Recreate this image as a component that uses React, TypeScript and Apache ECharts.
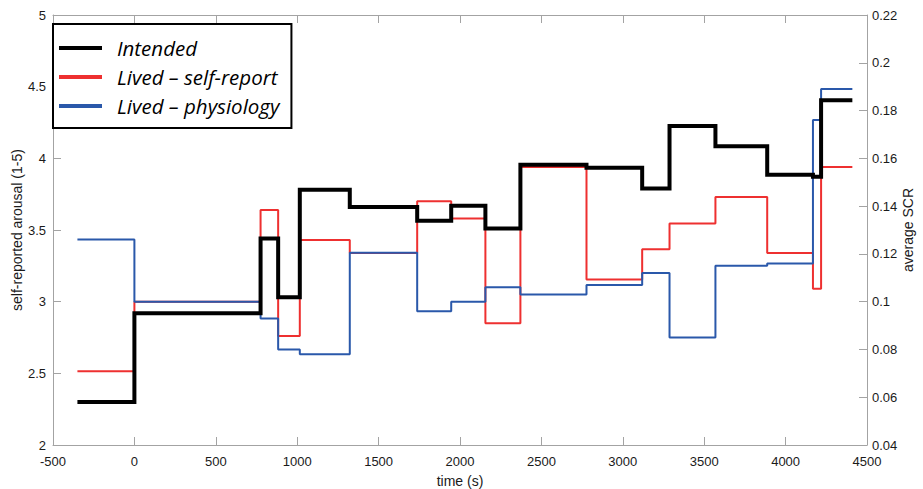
import React, { useEffect, useRef } from "react";
import * as echarts from "echarts";

// segment start times (s); last entry is the end of the final segment
const times = [-350, 0, 775, 883, 1016, 1323, 1737, 1946, 2156, 2371, 2777, 3119, 3287, 3569, 3887, 4168, 4218, 4410];
// Intended arousal (left axis)
const intended = [2.3, 2.92, 3.44, 3.03, 3.78, 3.66, 3.565, 3.67, 3.51, 3.955, 3.935, 3.79, 4.225, 4.085, 3.885, 3.872, 4.405, 4.405];
// Lived - self-report (left axis)
const selfReport = [2.515, 3.0, 3.64, 2.76, 3.43, 3.34, 3.7, 3.58, 2.85, 3.94, 3.155, 3.365, 3.545, 3.73, 3.34, 3.09, 3.94, 3.94];
// Lived - physiology, average SCR (right axis)
const physiology = [0.126, 0.1, 0.093, 0.08, 0.078, 0.1205, 0.096, 0.1, 0.106, 0.103, 0.107, 0.112, 0.085, 0.115, 0.116, 0.176, 0.189, 0.189];

const seriesNames = ["Intended", "Lived \u2013 self-report", "Lived \u2013 physiology"];
const xAxisName = "time (s)";
const leftAxisName = "self-reported arousal (1-5)";
const rightAxisName = "average SCR";

const pair = (vals: number[]) => times.map((t, i) => [t, vals[i]]);

export default function App() {
  const ref = useRef<HTMLDivElement>(null);
  useEffect(() => {
    if (!ref.current) return;
    const chart = echarts.init(ref.current, undefined, { renderer: "svg" });
    const axisLine = { show: true, onZero: false, lineStyle: { color: "#a3a3a3", width: 1 } };
    const tick = { show: true, inside: true, length: 8, lineStyle: { color: "#a3a3a3" } };
    const label = { color: "#1a1a1a", fontSize: 13, fontFamily: "Liberation Sans, Arial, sans-serif" };
    const nameText = { color: "#1a1a1a", fontSize: 14, fontFamily: "Liberation Sans, Arial, sans-serif" };
    chart.setOption({
      animation: false,
      backgroundColor: "#fff",
      grid: { left: 53, right: 56, top: 15, bottom: 44, containLabel: false, outerBoundsMode: "none" },
      legend: {
        data: seriesNames,
        orient: "vertical",
        left: 53,
        top: 24,
        padding: [14, 12, 12, 6],
        itemGap: 9,
        itemWidth: 43,
        itemHeight: 4,
        icon: "rect",
        borderColor: "#000",
        borderWidth: 2,
        backgroundColor: "#fff",
        textStyle: {
          fontSize: 20.5,
          lineHeight: 20,
          fontStyle: "italic",
          fontFamily: "Open Sans, Noto Sans, sans-serif",
          color: "#000",
          padding: [0, 0, 0, 10],
        },
      },
      xAxis: [
        {
          type: "value",
          min: -500,
          max: 4500,
          interval: 500,
          name: xAxisName,
          nameLocation: "middle",
          nameGap: 29,
          nameMoveOverlap: false,
          nameTextStyle: nameText,
          axisLine,
          axisTick: tick,
          axisLabel: { ...label, margin: 10, formatter: (v: number) => String(v) },
          splitLine: { show: false },
        },
        {
          type: "value",
          position: "top",
          min: -500,
          max: 4500,
          interval: 500,
          axisLine,
          axisTick: tick,
          axisLabel: { show: false },
          splitLine: { show: false },
        },
      ],
      yAxis: [
        {
          type: "value",
          min: 2,
          max: 5,
          interval: 0.5,
          name: leftAxisName,
          nameLocation: "middle",
          nameRotate: 90,
          nameGap: 29,
          nameMoveOverlap: false,
          nameTextStyle: nameText,
          axisLine,
          axisTick: tick,
          axisLabel: { ...label, margin: 7 },
          splitLine: { show: false },
        },
        {
          type: "value",
          position: "right",
          min: 0.04,
          max: 0.22,
          interval: 0.02,
          name: rightAxisName,
          nameLocation: "middle",
          nameRotate: 90,
          nameGap: 34,
          nameMoveOverlap: false,
          nameTextStyle: nameText,
          axisLine,
          axisTick: tick,
          axisLabel: { ...label, margin: 5, formatter: (v: number) => String(parseFloat(v.toFixed(2))) },
          splitLine: { show: false },
        },
      ],
      series: [
        {
          name: seriesNames[1],
          type: "line",
          step: "end",
          yAxisIndex: 0,
          data: pair(selfReport),
          showSymbol: false,
          lineStyle: { color: "#ee3030", width: 2 },
          itemStyle: { color: "#ee3030" },
        },
        {
          name: seriesNames[2],
          type: "line",
          step: "end",
          yAxisIndex: 1,
          data: pair(physiology),
          showSymbol: false,
          lineStyle: { color: "#2a58aa", width: 2 },
          itemStyle: { color: "#2a58aa" },
        },
        {
          name: seriesNames[0],
          type: "line",
          step: "end",
          yAxisIndex: 0,
          data: pair(intended),
          showSymbol: false,
          lineStyle: { color: "#000", width: 4, join: "miter" },
          itemStyle: { color: "#000" },
        },
      ],
    });
    return () => chart.dispose();
  }, []);
  return <div ref={ref} style={{ width: 923, height: 489, position: "absolute", left: 0, top: 0 }} />;
}
